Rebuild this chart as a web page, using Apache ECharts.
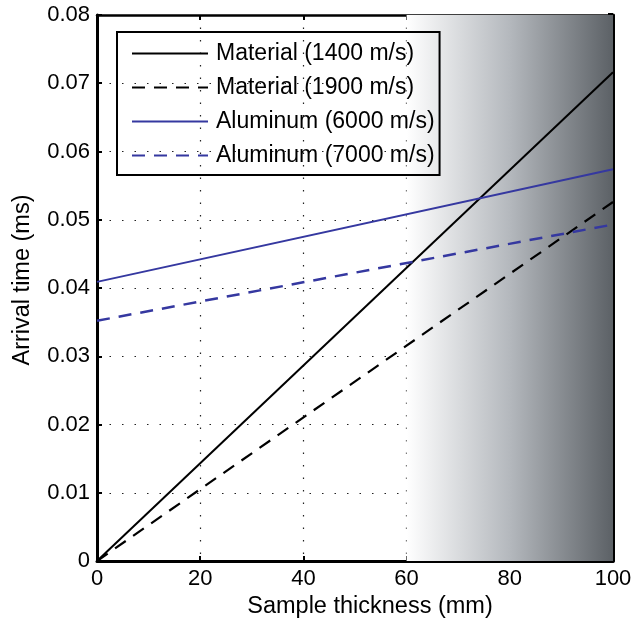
<!DOCTYPE html>
<html><head><meta charset="utf-8">
<script src="https://cdn.jsdelivr.net/npm/echarts@6/dist/echarts.min.js"></script>
<style>html,body{margin:0;padding:0;background:#fff}#c{width:642px;height:622px}</style>
</head><body><div id="c"></div>
<script>
const thickness = [0, 100];
const material1400 = [0, 0.0716];
const material1900 = [0, 0.0526];
const aluminum6000 = [0.0409, 0.0574];
const aluminum7000 = [0.0352, 0.0493];
const seriesNames = ['Material (1400 m/s)', 'Material (1900 m/s)', 'Aluminum (6000 m/s)', 'Aluminum (7000 m/s)'];
const shadedRange = [60, 100];

const font = 'Liberation Sans, Arial, Helvetica, sans-serif';
const chart = echarts.init(document.getElementById('c'));
function pts(ys){ return thickness.map((x,i)=>[x, ys[i]]); }
const dash = [13, 9];
const gridSplit = {show:true, lineStyle:{color:'#222', width:1.2, type:[1.5,11]}};
chart.setOption({
  animation:false,
  grid:{left:97, right:29, top:15, bottom:61, outerBoundsMode:'none', containLabel:false},
  legend:{
    orient:'vertical', left:117, top:32,
    padding:[10,5,8,14],
    itemWidth:76, itemHeight:14, itemGap:11,
    borderColor:'#000', borderWidth:2,
    itemStyle:{opacity:0},
    textStyle:{fontFamily:font, fontSize:23, color:'#000', padding:[0,0,0,3]},
    data:seriesNames
  },
  xAxis:[{
    type:'value', min:0, max:100, interval:20,
    name:'Sample thickness (mm)', nameLocation:'middle', nameGap:33,
    nameTextStyle:{fontFamily:font, fontSize:23.5, color:'#000', padding:[0,0,0,30]},
    axisLine:{show:true, onZero:false, lineStyle:{color:'#000', width:3}},
    axisTick:{show:true, inside:true, length:5, lineStyle:{color:'#000', width:2}},
    axisLabel:{fontFamily:font, fontSize:22, color:'#000', margin:7},
    splitLine:gridSplit
  },{
    type:'value', min:0, max:100, interval:20, position:'top',
    axisLine:{show:true, onZero:false, lineStyle:{color:'#000', width:2.5}},
    axisTick:{show:true, inside:true, length:5, lineStyle:{color:'#000', width:2}},
    axisLabel:{show:false}, splitLine:{show:false}
  }],
  yAxis:[{
    type:'value', min:0, max:0.08, interval:0.01,
    name:'Arrival time (ms)', nameLocation:'middle', nameGap:62,
    nameTextStyle:{fontFamily:font, fontSize:23.5, color:'#000', padding:[0,0,0,16]},
    axisLine:{show:true, onZero:false, lineStyle:{color:'#000', width:3}},
    axisTick:{show:true, inside:true, length:5, lineStyle:{color:'#000', width:2}},
    axisLabel:{fontFamily:font, fontSize:22, color:'#000', margin:7,
      formatter:v=> v===0 ? '0' : v.toFixed(2)},
    splitLine:gridSplit
  },{
    type:'value', min:0, max:0.08, interval:0.01, position:'right',
    axisLine:{show:true, onZero:false, lineStyle:{color:'#000', width:3}},
    axisTick:{show:true, inside:true, length:5, lineStyle:{color:'#000', width:4}},
    axisLabel:{show:false}, splitLine:{show:false}
  }],
  series:[
    {type:'line', name:'__bg', z:-1, data:[], silent:true,
      markArea:{silent:true, itemStyle:{color:new echarts.graphic.LinearGradient(0,0,1,0,[
        {offset:0,color:'#ffffff'},{offset:0.5,color:'#b4b8bd'},{offset:1,color:'#5c6166'}])},
        data:[[{xAxis:shadedRange[0]},{xAxis:shadedRange[1]}]]}},
    {type:'line', name:seriesNames[0], data:pts(material1400), symbol:'none', lineStyle:{color:'#000', width:2}, itemStyle:{color:'#000'}},
    {type:'line', name:seriesNames[1], data:pts(material1900), symbol:'none', lineStyle:{color:'#000', width:2.2, type:dash}, itemStyle:{color:'#000'}},
    {type:'line', name:seriesNames[2], data:pts(aluminum6000), symbol:'none', lineStyle:{color:'#3538a0', width:2}, itemStyle:{color:'#3538a0'}},
    {type:'line', name:seriesNames[3], data:pts(aluminum7000), symbol:'none', lineStyle:{color:'#3538a0', width:2.5, type:dash}, itemStyle:{color:'#3538a0'}}
  ]
});
</script></body></html>
